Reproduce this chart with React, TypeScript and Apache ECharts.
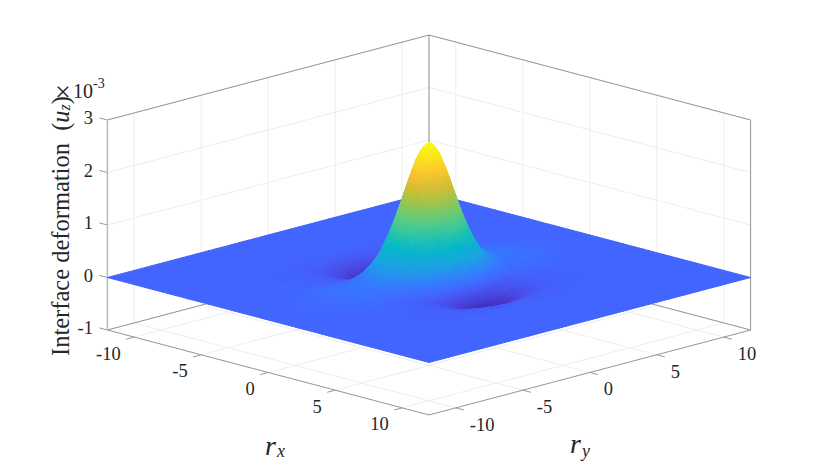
import React, { useEffect, useRef } from "react";
import * as echarts from "echarts";

const axisTicks = [-10, -5, 0, 5, 10];
const zTicks = [-1, 0, 1, 2, 3];
const axisLimit = 12;

// Sampling positions of the quarter-surface table (rx >= 0, ry >= 0); the surface reads as mirror-symmetric.
const rSamples = [0, 0.25, 0.5, 0.75, 1, 1.25, 1.5, 1.75, 2, 2.25, 2.5, 2.75, 3, 3.5, 4, 4.5, 5, 5.5, 6, 7, 8, 10, 12];

// Deformation in units of 1e-3, one row per rx sample, one column per ry sample.
const uz = [
  [2.57, 2.53, 2.42, 2.24, 2.02, 1.79, 1.56, 1.34, 1.13, 0.95, 0.79, 0.65, 0.53, 0.35, 0.24, 0.18, 0.15, 0.14, 0.13, 0.09, 0.04, 0.01, 0],
  [2.51, 2.47, 2.37, 2.19, 1.98, 1.76, 1.53, 1.31, 1.11, 0.93, 0.77, 0.64, 0.52, 0.34, 0.24, 0.18, 0.15, 0.14, 0.13, 0.09, 0.04, 0.01, 0],
  [2.36, 2.33, 2.23, 2.07, 1.88, 1.67, 1.45, 1.25, 1.05, 0.88, 0.73, 0.60, 0.49, 0.32, 0.22, 0.17, 0.14, 0.13, 0.12, 0.08, 0.04, 0.01, 0],
  [2.13, 2.10, 2.01, 1.88, 1.71, 1.52, 1.32, 1.14, 0.96, 0.80, 0.66, 0.54, 0.44, 0.29, 0.20, 0.15, 0.13, 0.12, 0.11, 0.08, 0.03, 0.01, 0],
  [1.86, 1.83, 1.76, 1.64, 1.50, 1.34, 1.17, 1.01, 0.85, 0.71, 0.59, 0.48, 0.39, 0.25, 0.18, 0.14, 0.12, 0.12, 0.11, 0.07, 0.03, 0.01, 0],
  [1.57, 1.55, 1.49, 1.39, 1.27, 1.14, 1.00, 0.86, 0.73, 0.61, 0.50, 0.41, 0.33, 0.21, 0.15, 0.12, 0.11, 0.11, 0.10, 0.07, 0.03, 0.01, 0],
  [1.27, 1.25, 1.21, 1.13, 1.04, 0.93, 0.82, 0.71, 0.60, 0.50, 0.41, 0.33, 0.27, 0.17, 0.12, 0.10, 0.09, 0.10, 0.09, 0.06, 0.03, 0.01, 0],
  [0.99, 0.98, 0.95, 0.89, 0.82, 0.74, 0.65, 0.56, 0.47, 0.39, 0.32, 0.26, 0.21, 0.13, 0.09, 0.07, 0.07, 0.08, 0.08, 0.05, 0.02, 0.01, 0],
  [0.74, 0.73, 0.71, 0.67, 0.61, 0.55, 0.48, 0.41, 0.35, 0.29, 0.24, 0.19, 0.15, 0.09, 0.06, 0.05, 0.05, 0.06, 0.06, 0.04, 0.02, 0, 0],
  [0.50, 0.50, 0.48, 0.45, 0.42, 0.37, 0.32, 0.27, 0.23, 0.19, 0.15, 0.12, 0.09, 0.05, 0.03, 0.03, 0.03, 0.04, 0.05, 0.03, 0.01, 0, 0],
  [0.26, 0.26, 0.25, 0.23, 0.21, 0.18, 0.15, 0.12, 0.09, 0.07, 0.05, 0.03, 0.02, 0.01, 0.01, 0.01, 0.02, 0.03, 0.03, 0.02, 0.01, 0, 0],
  [0.03, 0.03, 0.03, 0.02, 0.01, 0, 0, -0.01, -0.02, -0.02, -0.03, -0.03, -0.03, -0.02, -0.01, 0, 0, 0.01, 0.02, 0.01, 0.01, 0, 0],
  [-0.10, -0.10, -0.10, -0.10, -0.10, -0.10, -0.10, -0.10, -0.09, -0.09, -0.08, -0.08, -0.07, -0.04, -0.02, -0.01, 0, 0.01, 0.01, 0.01, 0, 0, 0],
  [-0.29, -0.29, -0.28, -0.27, -0.25, -0.23, -0.21, -0.19, -0.16, -0.14, -0.12, -0.10, -0.08, -0.05, -0.03, -0.02, -0.01, -0.01, 0, 0, 0, 0, 0],
  [-0.38, -0.38, -0.37, -0.35, -0.33, -0.30, -0.27, -0.24, -0.21, -0.18, -0.15, -0.12, -0.09, -0.05, -0.03, -0.02, -0.01, -0.01, 0, 0, 0, 0, 0],
  [-0.37, -0.37, -0.36, -0.34, -0.32, -0.29, -0.26, -0.23, -0.20, -0.17, -0.14, -0.11, -0.08, -0.05, -0.03, -0.02, -0.01, -0.01, -0.01, 0, 0, 0, 0],
  [-0.28, -0.28, -0.27, -0.26, -0.24, -0.22, -0.20, -0.18, -0.15, -0.13, -0.11, -0.09, -0.07, -0.04, -0.03, -0.02, -0.01, -0.01, -0.01, 0, 0, 0, 0],
  [-0.17, -0.17, -0.16, -0.16, -0.15, -0.14, -0.12, -0.11, -0.10, -0.08, -0.07, -0.06, -0.05, -0.03, -0.02, -0.01, -0.01, -0.01, -0.01, 0, 0, 0, 0],
  [-0.09, -0.09, -0.08, -0.08, -0.07, -0.07, -0.06, -0.05, -0.05, -0.04, -0.04, -0.03, -0.03, -0.02, -0.02, -0.01, -0.01, -0.01, 0, 0, 0, 0, 0],
  [-0.01, -0.01, -0.01, -0.01, -0.01, -0.01, -0.01, -0.01, -0.01, -0.01, -0.01, -0.01, -0.01, -0.01, 0, 0, 0, 0, 0, 0, 0, 0, 0],
  [0.01, 0.01, 0.01, 0.01, 0.01, 0.01, 0.01, 0.01, 0.01, 0, 0, 0, 0, 0, 0, 0, 0, 0, 0, 0, 0, 0, 0],
  [0, 0, 0, 0, 0, 0, 0, 0, 0, 0, 0, 0, 0, 0, 0, 0, 0, 0, 0, 0, 0, 0, 0],
  [0, 0, 0, 0, 0, 0, 0, 0, 0, 0, 0, 0, 0, 0, 0, 0, 0, 0, 0, 0, 0, 0, 0],
];

const colorStops: [number, number[]][] = [
  [-0.38, [62, 38, 176]],
  [-0.2, [74, 68, 224]],
  [0, [66, 100, 255]],
  [0.2, [50, 125, 255]],
  [0.4, [30, 160, 228]],
  [0.77, [0, 186, 200]],
  [1.0, [50, 200, 160]],
  [1.38, [120, 205, 110]],
  [1.67, [190, 190, 45]],
  [2.0, [252, 188, 55]],
  [2.3, [252, 225, 30]],
  [2.57, [249, 251, 14]],
];

const originX = 429;
const originY = 277.5;
const scaleXY = 13.4;
const scaleDepth = 3.54;
const scaleZ = 52.5;

const project = (rx: number, ry: number, z: number): number[] => [
  originX + (rx + ry) * scaleXY,
  originY + (rx - ry) * scaleDepth - z * scaleZ,
];

const colorOf = (z: number): string => {
  let k = 0;
  while (k < colorStops.length - 2 && z > colorStops[k + 1][0]) k++;
  const [z0, c0] = colorStops[k];
  const [z1, c1] = colorStops[k + 1];
  const t = Math.max(0, Math.min(1, (z - z0) / (z1 - z0)));
  const c = c0.map((v, n) => Math.round(v + (c1[n] - v) * t));
  return `rgb(${c[0]},${c[1]},${c[2]})`;
};

const fullAxis = [...rSamples.slice(1).map((v) => -v).reverse(), ...rSamples];
const zAt = (i: number, j: number): number => {
  const mid = rSamples.length - 1;
  return uz[Math.abs(i - mid)][Math.abs(j - mid)];
};

const cells: number[][] = [];
for (let i = 0; i < fullAxis.length - 1; i++) {
  for (let j = 0; j < fullAxis.length - 1; j++) {
    cells.push([i, j, (fullAxis[i] + fullAxis[i + 1]) / 2 - (fullAxis[j] + fullAxis[j + 1]) / 2]);
  }
}
cells.sort((a, b) => a[2] - b[2]);

const L = axisLimit;
const gridSegments: number[][][] = [];
const edgeSegments: { from: number[]; to: number[]; color: string; width: number }[] = [];
axisTicks.forEach((t) => {
  gridSegments.push([[-L, t, -1], [-L, t, 3]]);
  gridSegments.push([[t, L, -1], [t, L, 3]]);
  gridSegments.push([[t, -L, -1], [t, L, -1]]);
  gridSegments.push([[-L, t, -1], [L, t, -1]]);
  edgeSegments.push({ from: [t, -L, -1], to: [t, -L - 0.6, -1], color: "#999999", width: 1 });
  edgeSegments.push({ from: [L, t, -1], to: [L + 0.6, t, -1], color: "#999999", width: 1 });
});
zTicks.forEach((t) => {
  gridSegments.push([[-L, -L, t], [-L, L, t]]);
  gridSegments.push([[-L, L, t], [L, L, t]]);
  edgeSegments.push({ from: [-L, -L, t], to: [-L - 0.6, -L, t], color: "#999999", width: 1 });
});
const edge = (from: number[], to: number[], color = "#959595", width = 1) =>
  edgeSegments.push({ from, to, color, width });
edge([-L, -L, 3], [-L, L, 3]);
edge([-L, L, 3], [L, L, 3]);
edge([-L, -L, -1], [L, -L, -1]);
edge([L, -L, -1], [L, L, -1]);
edge([-L, -L, -1], [-L, L, -1]);
edge([-L, L, -1], [L, L, -1]);
edge([-L, L, -1], [-L, L, 3], "#8a8a8a");
edge([L, L, -1], [L, L, 3]);
edge([-L, -L, -1], [-L, -L, 3], "#bdbdbd", 1.6);

const serif = "'Liberation Serif', serif";

export default function App() {
  const ref = useRef<HTMLDivElement>(null);
  useEffect(() => {
    if (!ref.current) return;
    const chart = echarts.init(ref.current, undefined, { renderer: "svg" });

    const renderSegment = (color: string, width: number, seg: number[][], api: any) => {
      const a = api.coord(project(seg[0][0], seg[0][1], seg[0][2]));
      const b = api.coord(project(seg[1][0], seg[1][1], seg[1][2]));
      return {
        type: "line",
        silent: true,
        shape: { x1: a[0], y1: a[1], x2: b[0], y2: b[1] },
        style: { stroke: color, lineWidth: width, fill: "none" },
      };
    };

    const labelText = (text: string, x: number, y: number, align: string) => ({
      type: "text",
      silent: true,
      x,
      y,
      style: { text, align, verticalAlign: "middle", font: `18.5px ${serif}`, fill: "#262626" },
    });

    const option: any = {
      animation: false,
      backgroundColor: "#ffffff",
      grid: { left: 0, right: 0, top: 0, bottom: 0 },
      xAxis: { type: "value", min: 0, max: 830, show: false },
      yAxis: { type: "value", min: 0, max: 467, inverse: true, show: false },
      series: [
        {
          type: "custom",
          name: "grid",
          coordinateSystem: "cartesian2d",
          z: 1,
          silent: true,
          data: gridSegments.map((_, k) => [k]),
          renderItem: (_: any, api: any) =>
            renderSegment("#eeeeee", 1, gridSegments[api.value(0)], api),
        },
        {
          type: "custom",
          name: "box",
          coordinateSystem: "cartesian2d",
          z: 2,
          silent: true,
          data: edgeSegments.map((_, k) => [k]),
          renderItem: (_: any, api: any) => {
            const s = edgeSegments[api.value(0)];
            return renderSegment(s.color, s.width, [s.from, s.to], api);
          },
        },
        {
          type: "custom",
          name: "Interface deformation",
          coordinateSystem: "cartesian2d",
          z: 3,
          silent: true,
          data: cells,
          renderItem: (_: any, api: any) => {
            const i = api.value(0);
            const j = api.value(1);
            const corners = [
              [i, j],
              [i + 1, j],
              [i + 1, j + 1],
              [i, j + 1],
            ].map(([a, b]) => {
              const z = zAt(a, b);
              const p = api.coord(project(fullAxis[a], fullAxis[b], z));
              return { p, z };
            });
            const top = corners.reduce((m, c) => (c.p[1] < m.p[1] ? c : m));
            const bottom = corners.reduce((m, c) => (c.p[1] > m.p[1] ? c : m));
            const mean = colorOf(corners.reduce((s, c) => s + c.z, 0) / 4);
            const paint =
              Math.abs(top.z - bottom.z) < 0.015
                ? mean
                : new echarts.graphic.LinearGradient(0, 0, 0, 1, [
                    { offset: 0, color: colorOf(top.z) },
                    { offset: 1, color: colorOf(bottom.z) },
                  ]);
            return {
              type: "polygon",
              silent: true,
              shape: { points: corners.map((c) => c.p) },
              style: { fill: paint, stroke: paint, lineWidth: 1, lineJoin: "round" },
            };
          },
        },
        {
          type: "custom",
          name: "labels",
          coordinateSystem: "cartesian2d",
          z: 4,
          silent: true,
          data: [
            ...axisTicks.map((t) => [0, t]),
            ...axisTicks.map((t) => [1, t]),
            ...zTicks.map((t) => [2, t]),
          ],
          renderItem: (_: any, api: any) => {
            const kind = api.value(0);
            const t = api.value(1);
            if (kind === 0) {
              const p = api.coord(project(t, -L, -1));
              return labelText(String(t), p[0] - 13.5, p[1] + 16.5, "right");
            }
            if (kind === 1) {
              const p = api.coord(project(L, t, -1));
              return labelText(String(t), p[0] + 14, p[1] + 17, "left");
            }
            const p = api.coord(project(-L, -L, t));
            return labelText(String(t), 93, p[1] - 2, "right");
          },
        },
      ],
      graphic: [
        {
          type: "text",
          silent: true,
          x: 60,
          y: 226,
          rotation: Math.PI / 2,
          style: {
            text: "Interface deformation  ({u|u}{s|z})",
            align: "center",
            verticalAlign: "middle",
            font: `24.5px ${serif}`,
            fill: "#262626",
            rich: {
              u: { font: `italic 24.5px ${serif}`, fill: "#262626" },
              s: { font: `italic 16px ${serif}`, fill: "#262626", padding: [8, 0, 0, 0] },
            },
          },
        },
        {
          type: "text",
          silent: true,
          x: 63,
          y: 91,
          style: { text: "×", align: "center", verticalAlign: "middle", font: `28px ${serif}`, fill: "#262626" },
        },
        {
          type: "text",
          silent: true,
          x: 93,
          y: 90.5,
          style: { text: "10", align: "right", verticalAlign: "middle", font: `20px ${serif}`, fill: "#262626" },
        },
        {
          type: "text",
          silent: true,
          x: 93,
          y: 83,
          style: { text: "-3", align: "left", verticalAlign: "middle", font: `14px ${serif}`, fill: "#262626" },
        },
        {
          type: "text",
          silent: true,
          x: 265,
          y: 445,
          style: { text: "r", align: "left", verticalAlign: "middle", font: `italic 28px ${serif}`, fill: "#262626" },
        },
        {
          type: "text",
          silent: true,
          x: 277,
          y: 451,
          style: { text: "x", align: "left", verticalAlign: "middle", font: `italic 18px ${serif}`, fill: "#262626" },
        },
        {
          type: "text",
          silent: true,
          x: 570,
          y: 443,
          style: { text: "r", align: "left", verticalAlign: "middle", font: `italic 28px ${serif}`, fill: "#262626" },
        },
        {
          type: "text",
          silent: true,
          x: 582,
          y: 451,
          style: { text: "y", align: "left", verticalAlign: "middle", font: `italic 18px ${serif}`, fill: "#262626" },
        },
      ],
    };
    chart.setOption(option);
    return () => chart.dispose();
  }, []);
  return <div ref={ref} style={{ position: "fixed", left: 0, top: 0, width: 830, height: 467 }} />;
}
